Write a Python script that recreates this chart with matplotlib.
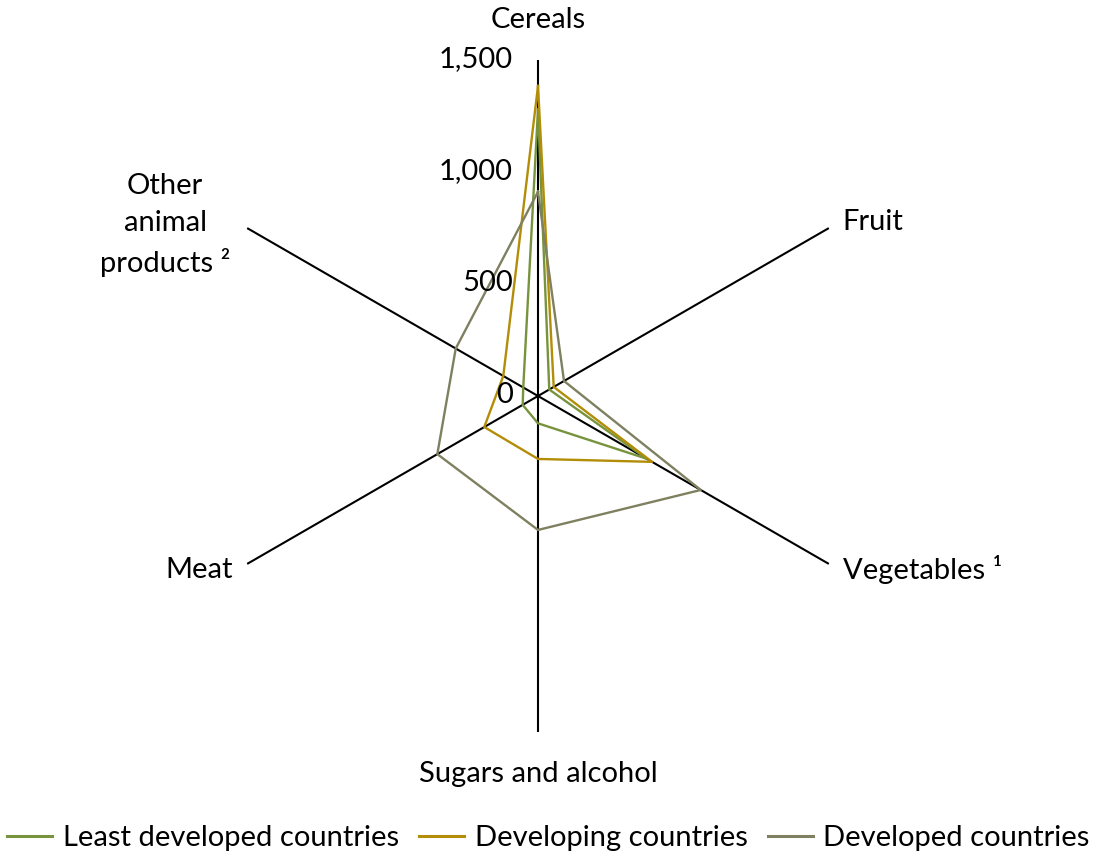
import numpy as np
import matplotlib
matplotlib.use("Agg")
import matplotlib.pyplot as plt
from matplotlib.lines import Line2D

categories = ["Cereals", "Fruit", "Vegetables \u00b9", "Sugars and alcohol", "Meat", "Other\nanimal\nproducts \u00b2"]
series_names = ["Least developed countries", "Developing countries", "Developed countries"]
least_developed = [1280, 58, 560, 122, 79, 76]
developing = [1384, 81, 588, 281, 277, 179]
developed = [912, 134, 839, 598, 519, 424]
tick_values = [0, 500, 1000, 1500]
tick_labels = ["0", "500", "1,000", "1,500"]

colors = ["#77933C", "#B38D08", "#7E8060"]

plt.rcParams['font.family'] = ['Lato', 'DejaVu Sans']

W, H = 1097, 859
fig = plt.figure(figsize=(W / 100, H / 100), dpi=100)
cx, cy, R = 538, 463, 336
ax = fig.add_axes([(cx - R) / W, (cy - R) / H, 2 * R / W, 2 * R / H], projection='polar')
ax.set_theta_offset(np.pi / 2)
ax.set_theta_direction(-1)
ax.set_ylim(0, 1500)
ax.grid(False)
ax.spines['polar'].set_visible(False)
ax.set_xticks([])
ax.set_yticks([])
ax.patch.set_alpha(0)

n = len(categories)
theta = np.arange(n) * 2 * np.pi / n

# axes lines
for t in theta:
    ax.plot([t, t], [0, 1500], color="black", lw=1.5, solid_capstyle='butt', zorder=1)

# series
for vals, col in zip([least_developed, developing, developed], colors):
    th = np.append(theta, theta[0])
    v = np.append(vals, vals[0])
    ax.plot(th, v, color=col, lw=1.7, zorder=2)

fs = 21
# radial tick labels
for v, lab in zip(tick_values, tick_labels):
    ax.annotate(lab, xy=(0, v), xytext=(-18, 1), textcoords='offset points',
                ha='right', va='center', fontsize=fs)

# category labels
offsets = [(0, 29, 'center'), (10, 4, 'left'), (10, -4, 'left'),
           (0, -30, 'center'), (-10, -4, 'right'), (-59, 2, 'center')]
for t, lab, (dx, dy, ha) in zip(theta, categories, offsets):
    ax.annotate(lab, xy=(t, 1500), xytext=(dx, dy), textcoords='offset points',
                ha=ha, va='center', fontsize=fs, multialignment='center',
                linespacing=1.5)

handles = [Line2D([], [], color=c, lw=2.2) for c in colors]
fig.legend(handles, series_names, loc='center', bbox_to_anchor=(0.5, 1 - 838 / H),
           ncol=3, frameon=False, fontsize=fs, handlelength=1.55, handletextpad=0.35,
           columnspacing=0.7)

fig.savefig("out.png", dpi=100)
